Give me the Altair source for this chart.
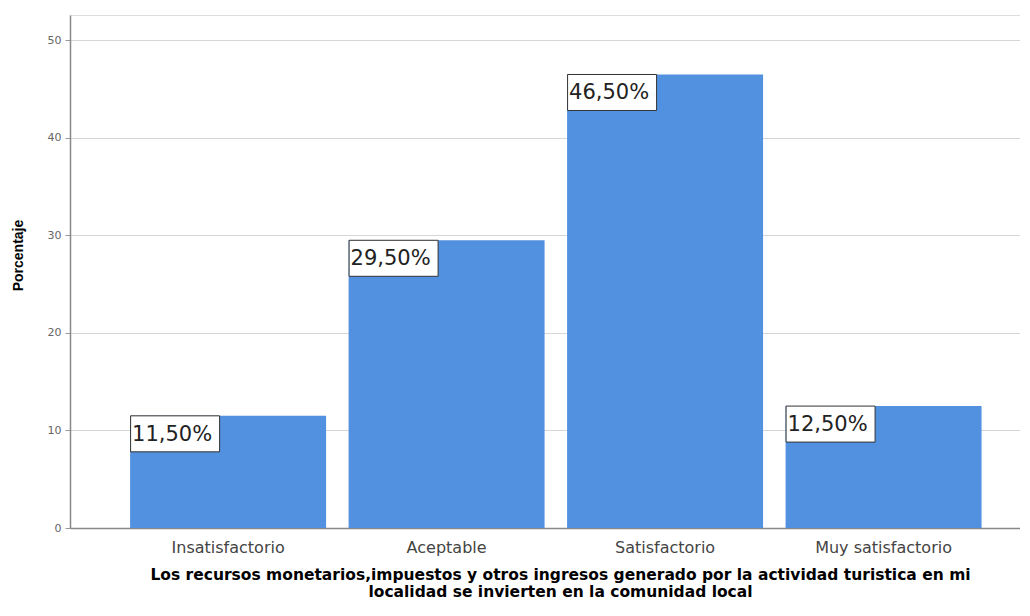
import altair as alt
import pandas as pd

categories = ["Insatisfactorio", "Aceptable", "Satisfactorio", "Muy satisfactorio"]
values = [11.5, 29.5, 46.5, 12.5]
labels = ["11,50%", "29,50%", "46,50%", "12,50%"]
y_ticks = [0, 10, 20, 30, 40, 50]

df = pd.DataFrame({"cat": categories, "val": values, "lab": labels})

WIDE = "DejaVu Sans"
NARROW = "Liberation Sans"

x_enc = alt.X(
    "cat:N",
    sort=categories,
    scale=alt.Scale(paddingInner=0.103, paddingOuter=0.2255, align=0.61),
    axis=alt.Axis(
        title=["Los recursos monetarios,impuestos y otros ingresos generado por la actividad turistica en mi",
               "localidad se invierten en la comunidad local"],
        titleFont=WIDE, titleFontSize=15.5, titleFontWeight="bold", titleColor="#000000",
        titlePadding=12, titleLineHeight=17, titleX=490,
        labelFont=WIDE, labelFontSize=16, labelColor="#444444", labelPadding=11,
        labelAngle=0, ticks=False, domainColor="#888888", domainWidth=1.5,
    ),
)
y_scale = alt.Scale(domain=[0, 52.6], nice=False)

bars = alt.Chart(df).mark_bar(color="#5291E0").encode(
    x=x_enc,
    y=alt.Y(
        "val:Q", scale=y_scale,
        axis=alt.Axis(
            title="Porcentaje", values=y_ticks,
            titleFont=NARROW, titleFontSize=14, titleFontWeight="bold", titleColor="#000000",
            titlePadding=22, titleY=240,
            labelFont=WIDE, labelFontSize=11, labelColor="#666666", labelPadding=4,
            tickSize=5, tickColor="#999999", domainColor="#888888", domainWidth=1.5,
            grid=True, gridColor="#d6d6d6", gridWidth=1.2,
        ),
    ),
)

boxes = alt.Chart(df).mark_rect(
    width=89, height=36, xOffset=-53, yOffset=18,
    fill="#ffffff", stroke="#333333", strokeWidth=1,
).encode(x=alt.X("cat:N", sort=categories), y=alt.Y("val:Q", scale=y_scale))

texts = alt.Chart(df).mark_text(
    align="left", baseline="middle", xOffset=-96, yOffset=19,
    font=WIDE, fontSize=21, color="#222222",
).encode(x=alt.X("cat:N", sort=categories), y=alt.Y("val:Q", scale=y_scale), text="lab:N")

chart = alt.layer(bars, boxes, texts).properties(
    width=950, height=513,
    autosize=alt.AutoSizeParams(type="none"),
    padding={"left": 62, "top": 7, "right": 0, "bottom": 80},
).configure_view(stroke=None).configure(background="#ffffff")

chart.save("out.html", embed_options={"renderer": "svg", "actions": False})
